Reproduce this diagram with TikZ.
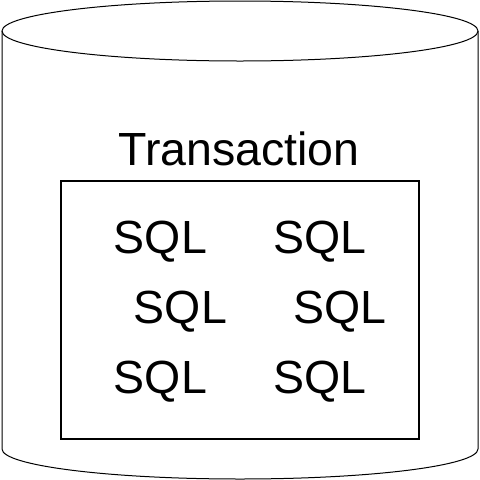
\documentclass[tikz,border=0pt]{standalone}
\usepackage{fontspec}
\setmainfont{Liberation Sans}
\begin{document}
\begin{tikzpicture}[
  x=1pt, y=-1pt,
  big/.style={font=\fontsize{46.5}{56}\selectfont, inner sep=0pt, anchor=base},
  txbox/.style={draw, line width=1.3pt, minimum width=358pt, minimum height=258pt, inner sep=0pt}
]
\useasboundingbox (0,0) rectangle (480,480);
% ---------------- the database drum ---------------------------------------
\draw[line width=1pt] (2,31) -- (2,449)
  arc[start angle=180, end angle=0, x radius=238, y radius=30] -- (478,31);
\draw[line width=1pt] (240,31) ellipse[x radius=238, y radius=30];
% ---------------- the transaction and its statements ----------------------
\node[big] (title) at (239,165) {Transaction};
\node[txbox] (tx) at (240,310) {};
\foreach \i/\x/\y in {1/160.5/253,2/320/253,3/180.5/323,4/340/323,5/160.5/393,6/320/393}
  \node[big] (sql\i) at (\x,\y) {SQL};
\end{tikzpicture}
\end{document}
